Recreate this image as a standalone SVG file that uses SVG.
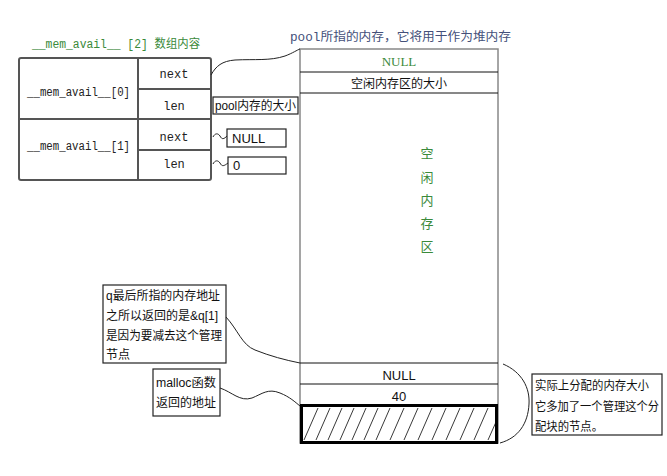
<svg xmlns="http://www.w3.org/2000/svg" width="667" height="476" viewBox="0 0 667 476">
<style>
.mono{font-family:"Liberation Mono","DejaVu Sans Mono",monospace;font-size:12px;fill:#222}
.cjk{font-family:"Liberation Sans","Noto Sans CJK SC",sans-serif;font-size:12px;fill:#111}
.green{fill:#3a8a3a}
.title2{font-family:"Liberation Mono","Noto Sans CJK SC",monospace;font-size:12px;fill:#44507a}
.tbl{fill:none;stroke:#555;stroke-width:2}
.thin{fill:none;stroke:#111;stroke-width:1}
.box{fill:#fff;stroke:#222;stroke-width:1.2}
.conn{fill:none;stroke:#222;stroke-width:1}
</style>
<rect width="667" height="476" fill="#fff"/>

<text class="mono green" x="32" y="48" textLength="168" lengthAdjust="spacingAndGlyphs" style="font-family:'Liberation Mono','Noto Sans CJK SC',monospace">__mem_avail__ [2] 数组内容</text>
<text class="title2" x="290" y="41" textLength="221" lengthAdjust="spacingAndGlyphs">pool所指的内存，它将用于作为堆内存</text>

<g id="mem_avail_table">
<rect class="tbl" x="19" y="58" width="192" height="122" rx="2"/>
<line class="tbl" x1="138" y1="58" x2="138" y2="180"/>
<line class="tbl" x1="19" y1="119" x2="211" y2="119"/>
<line class="tbl" x1="138" y1="89" x2="211" y2="89"/>
<line class="tbl" x1="138" y1="150" x2="211" y2="150"/>
<text class="mono" x="27" y="96" textLength="103" lengthAdjust="spacingAndGlyphs">__mem_avail__[0]</text>
<text class="mono" x="27" y="150" textLength="103" lengthAdjust="spacingAndGlyphs">__mem_avail__[1]</text>
<text class="mono" x="174" y="78" text-anchor="middle">next</text>
<text class="mono" x="174" y="110" text-anchor="middle">len</text>
<text class="mono" x="174" y="141" text-anchor="middle">next</text>
<text class="mono" x="174" y="168" text-anchor="middle">len</text>
</g>

<g id="pool_size">
<rect class="box" x="213" y="97" width="85" height="17"/>
<text class="cjk" x="215" y="110" textLength="81" lengthAdjust="spacingAndGlyphs">pool内存的大小</text>
</g>
<g id="null_box">
<rect class="box" x="227" y="129" width="59" height="18"/>
<text class="cjk" x="232" y="143" style="font-size:13px">NULL</text>
</g>
<g id="zero_box">
<rect class="box" x="228" y="157" width="58" height="17"/>
<text class="cjk" x="233" y="170" style="font-size:13px">0</text>
</g>

<g id="pool_block">
<rect x="300" y="49" width="198" height="394" fill="none" stroke="#888" stroke-width="1.5"/>
<line class="thin" x1="300" y1="72" x2="498" y2="72" stroke-width="1.5"/>
<line class="thin" x1="300" y1="93" x2="498" y2="93" stroke-width="1.5"/>
<text x="399" y="66" text-anchor="middle" style="font-family:'Liberation Serif',serif;font-size:13px;fill:#3a8a3a">NULL</text>
<text class="cjk" x="399" y="88" text-anchor="middle">空闲内存区的大小</text>
<g class="cjk green" text-anchor="middle" style="font-family:'Noto Sans CJK SC',sans-serif;font-size:13px">
<text x="427" y="158">空</text>
<text x="427" y="182">闲</text>
<text x="427" y="205">内</text>
<text x="427" y="228">存</text>
<text x="427" y="251">区</text>
</g>
<line class="thin" x1="300" y1="363" x2="498" y2="363"/>
<line class="thin" x1="300" y1="384" x2="498" y2="384"/>
<text class="cjk" x="399" y="380" text-anchor="middle" style="font-size:13px">NULL</text>
<text class="cjk" x="399" y="401" text-anchor="middle" style="font-size:13px">40</text>
</g>

<g id="allocated">
<g stroke="#222" stroke-width="0.9">
<line x1="304" y1="440" x2="318" y2="408"/>
<line x1="316" y1="440" x2="330" y2="408"/>
<line x1="328" y1="440" x2="342" y2="408"/>
<line x1="340" y1="440" x2="354" y2="408"/>
<line x1="352" y1="440" x2="366" y2="408"/>
<line x1="364" y1="440" x2="378" y2="408"/>
<line x1="376" y1="440" x2="390" y2="408"/>
<line x1="390" y1="440" x2="404" y2="408"/>
<line x1="404" y1="440" x2="418" y2="408"/>
<line x1="418" y1="440" x2="432" y2="408"/>
<line x1="432" y1="440" x2="446" y2="408"/>
<line x1="446" y1="440" x2="460" y2="408"/>
<line x1="460" y1="440" x2="474" y2="408"/>
<line x1="474" y1="440" x2="488" y2="408"/>
<line x1="488" y1="440" x2="496" y2="422"/>
</g>
<rect x="301.5" y="405.5" width="195" height="37" fill="none" stroke="#000" stroke-width="3"/>
</g>

<g id="note_q">
<rect class="box" x="103" y="285" width="123" height="78"/>
<text class="cjk" x="106" y="300" textLength="114" lengthAdjust="spacingAndGlyphs">q最后所指的内存地址</text>
<text class="cjk" x="106" y="320" textLength="112" lengthAdjust="spacingAndGlyphs">之所以返回的是&amp;q[1]</text>
<text class="cjk" x="106" y="340" textLength="116" lengthAdjust="spacingAndGlyphs">是因为要减去这个管理</text>
<text class="cjk" x="106" y="359">节点</text>
</g>

<g id="note_malloc">
<rect class="box" x="153" y="369" width="67" height="47"/>
<text class="cjk" x="156" y="387" textLength="60" lengthAdjust="spacingAndGlyphs">malloc函数</text>
<text class="cjk" x="156" y="407" textLength="60" lengthAdjust="spacingAndGlyphs">返回的地址</text>
</g>

<g id="note_size">
<rect class="box" x="532" y="374" width="130" height="61"/>
<text class="cjk" x="535" y="390" textLength="114" lengthAdjust="spacingAndGlyphs">实际上分配的内存大小</text>
<text class="cjk" x="535" y="411" textLength="124" lengthAdjust="spacingAndGlyphs">它多加了一个管理这个分</text>
<text class="cjk" x="535" y="431" textLength="68" lengthAdjust="spacingAndGlyphs">配块的节点。</text>
</g>

<g id="connectors">
<path class="conn" d="M211,75 C216,66 222,61 235,60 C255,59 270,61 285,56 C293,53 297,50 300,49"/>
<path class="conn" d="M213,137 C215,133 218,133 220,136 C222,140 224,139 227,136"/>
<path class="conn" d="M213,164 C215,160 218,160 220,163 C222,167 224,166 228,163"/>
<path class="conn" d="M226,317 C238,330 242,345 255,350 C270,356 285,360 300,363"/>
<path class="conn" d="M220,388 C232,392 240,402 252,398 C262,394 268,388 280,393 C290,397 295,402 300,406"/>
<path class="conn" d="M503,364 C522,372 530,388 529,404 C528,424 518,438 500,443"/>
</g>
</svg>
